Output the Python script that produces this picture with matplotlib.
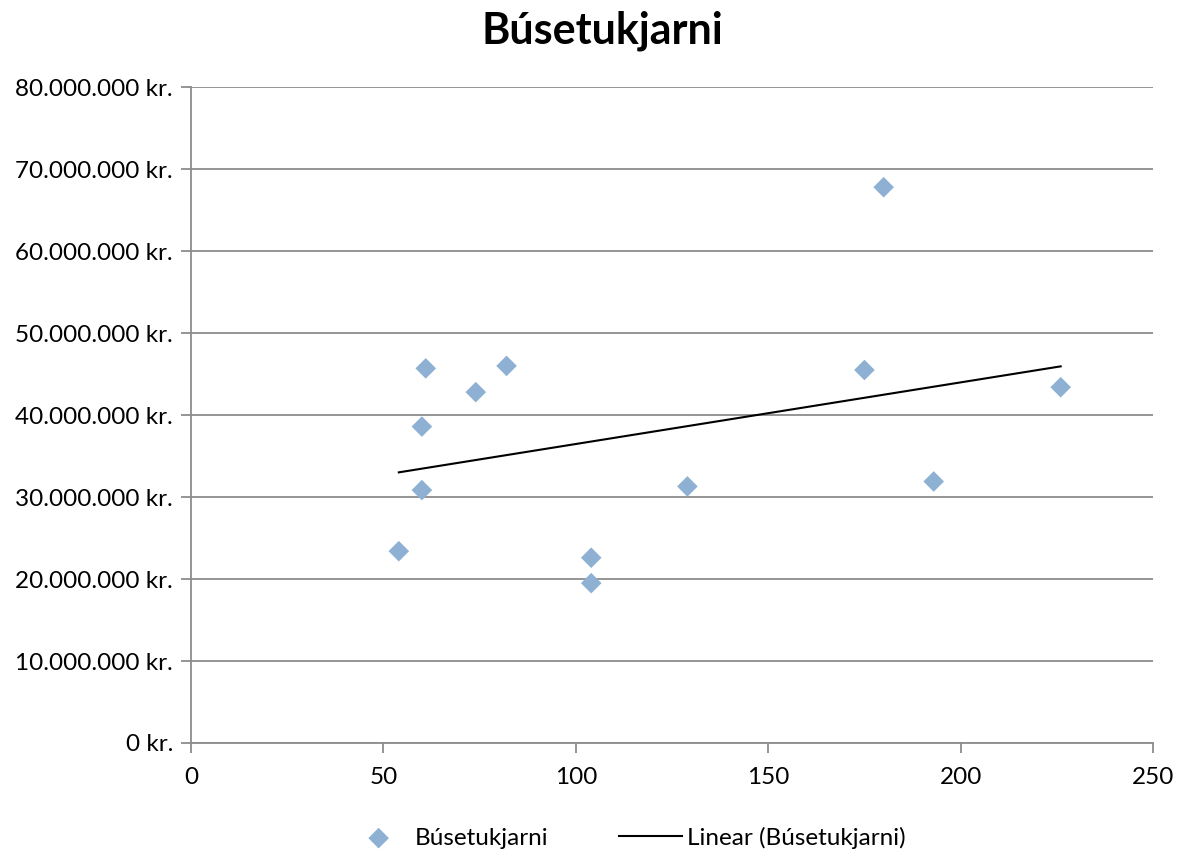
import matplotlib
matplotlib.use("Agg")
import matplotlib.pyplot as plt
import numpy as np
from matplotlib.ticker import FuncFormatter, MultipleLocator

plt.rcParams['font.family'] = ['Lato', 'DejaVu Sans']

title = "Búsetukjarni"
series_name = "Búsetukjarni"
trend_name = "Linear (Búsetukjarni)"
x_vals = [54, 60, 60, 61, 74, 82, 104, 104, 129, 175, 180, 193, 226]
y_vals = [23.4e6, 30.85e6, 38.6e6, 45.7e6, 42.8e6, 46.0e6, 22.6e6, 19.5e6,
          31.3e6, 45.5e6, 67.8e6, 31.9e6, 43.4e6]

fig = plt.figure(figsize=(11.82, 8.55), dpi=100)
ax = fig.add_axes([0.1616, 0.131, 0.8139, 0.767])

x = np.array(x_vals, dtype=float)
y = np.array(y_vals, dtype=float)
ax.scatter(x, y, marker='D', s=110, color='#8DB0D3', edgecolors='none',
           zorder=3, label=series_name)
k, b = np.polyfit(x, y, 1)
xt = np.array([x.min(), x.max()])
ax.plot(xt, k * xt + b, color='black', lw=1.5, zorder=4, label=trend_name)

ax.set_xlim(0, 250)
ax.set_ylim(0, 80e6)
ax.xaxis.set_major_locator(MultipleLocator(50))
ax.yaxis.set_major_locator(MultipleLocator(10e6))

def fmt(v, pos):
    if v == 0:
        return "0 kr."
    return f"{int(round(v)):,}".replace(",", ".") + " kr."
ax.yaxis.set_major_formatter(FuncFormatter(fmt))

ax.grid(axis='y', color='#8C8C8C', lw=1.3)
ax.set_axisbelow(True)
for s in ['top', 'right']:
    ax.spines[s].set_visible(False)
for s in ['left', 'bottom']:
    ax.spines[s].set_color('#8C8C8C')
    ax.spines[s].set_linewidth(1.3)
ax.tick_params(axis='both', colors='#8C8C8C', labelcolor='black',
               labelsize=17.5, length=7, width=1.3, direction='out')
ax.tick_params(axis='x', pad=10)
ax.tick_params(axis='y', pad=6)

fig.suptitle(title, fontsize=31, fontweight='bold', x=0.51, y=0.988)
fig.legend(loc='lower center', ncol=2, frameon=False, fontsize=17.5,
           bbox_to_anchor=(0.53, -0.018), handlelength=2.6, handletextpad=0.2,
           columnspacing=2.9)

fig.savefig("out.png", dpi=100)
